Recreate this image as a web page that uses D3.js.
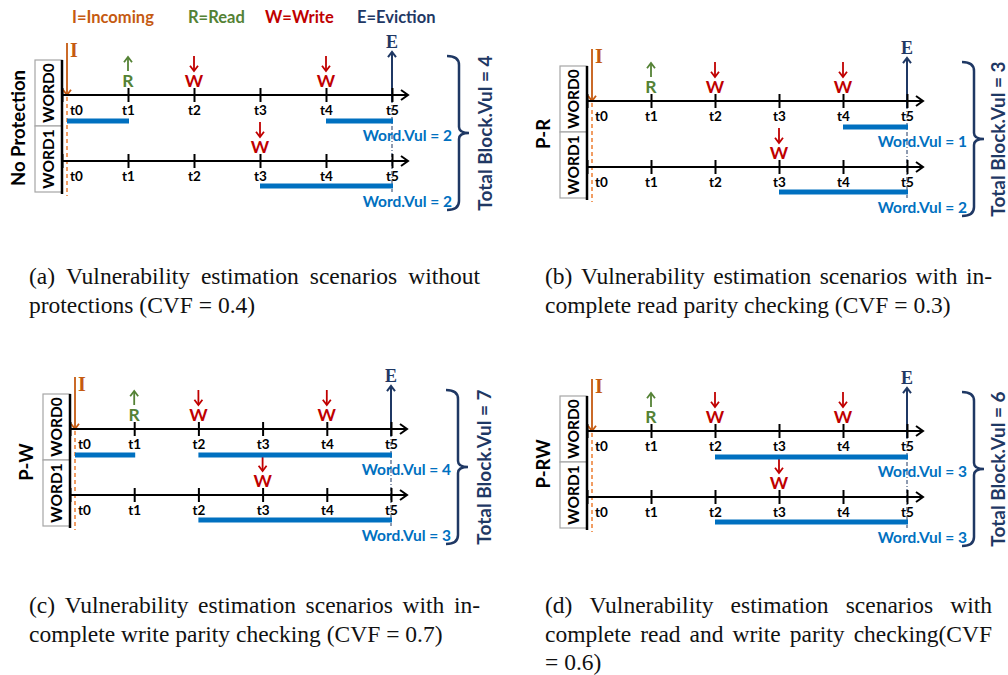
<!DOCTYPE html>
<html>
<head>
<meta charset="utf-8">
<script src="https://cdn.jsdelivr.net/npm/d3@7"></script>
<style>
  body { margin: 0; background: #fff; }
</style>
</head>
<body>
<div id="chart"></div>
<script>
// values
const ticks = ["t0", "t1", "t2", "t3", "t4", "t5"];
const panelNames = ["No Protection", "P-R", "P-W", "P-RW"];
const legendLabels = ["I=Incoming", "R=Read", "W=Write", "E=Eviction"];
const word0Events = [{ t: 1, op: "R" }, { t: 2, op: "W" }, { t: 4, op: "W" }];
const word1Events = [{ t: 3, op: "W" }];
// vulnerable intervals [from, to] per panel
const word0Spans = [[[0, 1], [4, 5]], [[4, 5]], [[0, 1], [2, 5]], [[2, 5]]];
const word1Spans = [[[3, 5]], [[3, 5]], [[2, 5]], [[2, 5]]];
const word0Vul = [2, 1, 4, 3];
const word1Vul = [2, 2, 3, 3];
const totalVul = [4, 3, 7, 6];
const captions = [
  ["(a) Vulnerability estimation scenarios without", "protections (CVF = 0.4)"],
  ["(b) Vulnerability estimation scenarios with in-", "complete read parity checking (CVF = 0.3)"],
  ["(c) Vulnerability estimation scenarios with in-", "complete write parity checking (CVF = 0.7)"],
  ["(d) Vulnerability estimation scenarios with", "complete read and write parity checking(CVF", "= 0.6)"]
];

// colours
const cInc = "#c55a11", cRead = "#548235", cWrite = "#c00000", cEvict = "#1f3864", cVul = "#0070c0";
const opColor = { R: cRead, W: cWrite };
const legendColors = [cInc, cRead, cWrite, cEvict];

const sans = "Lato, 'Open Sans', sans-serif";
const serif = "'Liberation Serif', 'Times New Roman', serif";

// layout of each panel (left/right end of the time axis, y of WORD0 axis)
const layout = [
  { x0: 62, x5: 392, y: 95 },
  { x0: 587, x5: 907, y: 101 },
  { x0: 70, x5: 391, y: 429 },
  { x0: 587, x5: 907, y: 431 }
];
const capLayout = [
  { x: 29, w: 451, y: 284 },
  { x: 545, w: 447, y: 284 },
  { x: 29, w: 451, y: 613 },
  { x: 545, w: 447, y: 613 }
];
const legendX = [72, 188, 265, 357];

const width = 1008, height = 675;
const svg = d3.select("#chart").append("svg")
  .attr("width", width)
  .attr("height", height)
  .style("font-family", sans);

// legend on top
svg.selectAll(".legend")
  .data(legendLabels)
  .enter().append("text")
  .attr("class", "legend")
  .attr("x", (d, i) => legendX[i])
  .attr("y", 23)
  .attr("font-size", 16.5)
  .attr("font-weight", "bold")
  .attr("fill", (d, i) => legendColors[i])
  .text(d => d);

// small helpers for the hand-drawn arrows
function arrow(g, x, yTail, yTip, color, w, head) {
  const dir = yTip > yTail ? -1 : 1;
  g.append("line").attr("x1", x).attr("x2", x).attr("y1", yTail).attr("y2", yTip)
    .attr("stroke", color).attr("stroke-width", w);
  g.append("path")
    .attr("d", `M${x - head},${yTip + dir * head * 1.3}L${x},${yTip}L${x + head},${yTip + dir * head * 1.3}`)
    .attr("fill", "none").attr("stroke", color).attr("stroke-width", w);
}

function brace(g, xv, yt, yb, color) {
  const ym = (yt + yb) / 2, xl = xv - 12, xp = xv + 10;
  g.append("path")
    .attr("d", `M${xl},${yt}Q${xv},${yt} ${xv},${yt + 9}L${xv},${ym - 6}Q${xv},${ym} ${xp},${ym}` +
      `Q${xv},${ym} ${xv},${ym + 6}L${xv},${yb - 9}Q${xv},${yb} ${xl},${yb}`)
    .attr("fill", "none").attr("stroke", color).attr("stroke-width", 2.5);
}

layout.forEach((L, p) => {
  const g = svg.append("g");
  const x = d3.scaleLinear().domain([0, 5]).range([L.x0, L.x5]);
  const yA = [L.y, L.y + 66];
  const boxL = L.x0 - 27;
  const xi = L.x0 + 5;

  // word boxes
  [[L.y - 35, L.y + 31], [L.y + 31, L.y + 97]].forEach((r, k) => {
    g.append("rect").attr("x", boxL).attr("y", r[0]).attr("width", 27).attr("height", r[1] - r[0])
      .attr("fill", "#fff").attr("stroke", "#a6a6a6").attr("stroke-width", 1.2);
    g.append("text")
      .attr("transform", `translate(${boxL + 19},${(r[0] + r[1]) / 2}) rotate(-90)`)
      .attr("text-anchor", "middle")
      .attr("font-size", 15.5).attr("font-weight", "bold")
      .text("WORD" + k);
  });
  g.append("line").attr("x1", L.x0).attr("x2", L.x0).attr("y1", L.y - 35).attr("y2", L.y + 99)
    .attr("stroke", "#000").attr("stroke-width", 2.5);

  // panel name
  g.append("text")
    .attr("transform", `translate(${L.x0 - 37},${L.y + 33}) rotate(-90)`)
    .attr("text-anchor", "middle")
    .attr("font-size", 18.5).attr("font-weight", "bold")
    .text(panelNames[p]);

  // incoming marker + dashed line
  g.append("line").attr("x1", xi).attr("x2", xi).attr("y1", L.y + 2).attr("y2", L.y + 101)
    .attr("stroke", "#ed7d31").attr("stroke-width", 1.5).attr("stroke-dasharray", "4,3");
  arrow(g, xi, L.y - 52, L.y, cInc, 1.8, 4);
  g.append("text").attr("x", xi + 7).attr("y", L.y - 38)
    .attr("text-anchor", "middle")
    .style("font-family", serif).attr("font-weight", "bold")
    .attr("font-size", 20).attr("fill", cInc).text("I");

  // eviction marker + dash-dot line
  g.append("line").attr("x1", x(5)).attr("x2", x(5)).attr("y1", L.y + 4).attr("y2", yA[1] + 31)
    .attr("stroke", cEvict).attr("stroke-width", 1).attr("stroke-dasharray", "4,2,1,2");
  arrow(g, x(5), L.y + 7, L.y - 43, cEvict, 2, 4);
  g.append("text").attr("x", x(5)).attr("y", L.y - 47)
    .attr("text-anchor", "middle")
    .style("font-family", serif).attr("font-weight", "bold")
    .attr("font-size", 18).attr("fill", cEvict).text("E");

  // the two time axes
  yA.forEach(ya => {
    const ax = g.append("g").attr("transform", `translate(0,${ya})`)
      .call(d3.axisBottom(x).tickValues(d3.range(6)).tickFormat(i => ticks[i]).tickSize(7).tickSizeOuter(0));
    ax.attr("font-family", null);
    ax.select(".domain").remove();
    ax.selectAll(".tick line").attr("y1", -7).attr("stroke", "#000").attr("stroke-width", 2);
    ax.selectAll(".tick text")
      .attr("font-size", 13.5).attr("font-weight", "bold")
      .attr("fill", "#000")
      .attr("dx", i => i === 0 ? 14 : 0);
    g.append("line").attr("x1", L.x0).attr("x2", x(5) + 16).attr("y1", ya).attr("y2", ya)
      .attr("stroke", "#000").attr("stroke-width", 2);
    g.append("path")
      .attr("d", `M${x(5) + 9},${ya - 5}L${x(5) + 16},${ya}L${x(5) + 9},${ya + 5}`)
      .attr("fill", "none").attr("stroke", "#000").attr("stroke-width", 2);
  });

  // read / write events
  [word0Events, word1Events].forEach((evs, k) => {
    evs.forEach(e => {
      const cx = x(e.t), ya = yA[k];
      if (e.op === "R") arrow(g, cx, ya - 24, ya - 38, opColor.R, 1.8, 4);
      else arrow(g, cx, ya - 39, ya - 24, opColor.W, 1.8, 4);
      g.append("text").attr("x", cx).attr("y", ya - 8)
        .attr("text-anchor", "middle")
        .attr("font-size", 17.5).attr("font-weight", "bold")
        .attr("fill", opColor[e.op]).text(e.op);
    });
  });

  // vulnerable intervals
  [word0Spans[p], word1Spans[p]].forEach((spans, k) => {
    const yb = yA[k] + (k === 0 ? 26 : 25);
    g.selectAll(null).data(spans).enter().append("rect")
      .attr("x", d => d[0] === 0 ? xi : x(d[0]))
      .attr("y", yb - 2.5)
      .attr("width", d => x(d[1]) + 1 - (d[0] === 0 ? xi : x(d[0])))
      .attr("height", 5)
      .attr("fill", cVul);
    g.append("text").attr("x", x(5) + 60).attr("y", yA[k] + 46)
      .attr("text-anchor", "end")
      .attr("font-size", 15.5).attr("font-weight", "bold").attr("fill", cVul)
      .text(`Word.Vul = ${[word0Vul, word1Vul][k][p]}`);
  });

  // brace + total
  brace(g, x(5) + 67, L.y - 39, L.y + 115, cEvict);
  g.append("text")
    .attr("transform", `translate(${Math.min(x(5) + 100, 1005)},${L.y + 38}) rotate(-90)`)
    .attr("text-anchor", "middle")
    .attr("font-size", 19).attr("font-weight", "bold").attr("fill", cEvict)
    .text(`Total Block.Vul = ${totalVul[p]}`);
});

// justified captions
captions.forEach((lines, c) => {
  const C = capLayout[c];
  lines.forEach((line, li) => {
    const y = C.y + li * 28.5;
    const words = line.split(" ");
    const t = svg.append("g");
    const nodes = words.map(w => t.append("text")
      .attr("y", y)
      .style("font-family", serif)
      .attr("font-size", 23.5)
      .attr("fill", "#111")
      .text(w));
    const lens = nodes.map(n => n.node().getComputedTextLength());
    const total = d3.sum(lens);
    const last = li === lines.length - 1;
    const gap = (!last && words.length > 1) ? (C.w - total) / (words.length - 1) : 5.9;
    let cx = C.x;
    nodes.forEach((n, k) => { n.attr("x", cx); cx += lens[k] + gap; });
  });
});
</script>
</body>
</html>
